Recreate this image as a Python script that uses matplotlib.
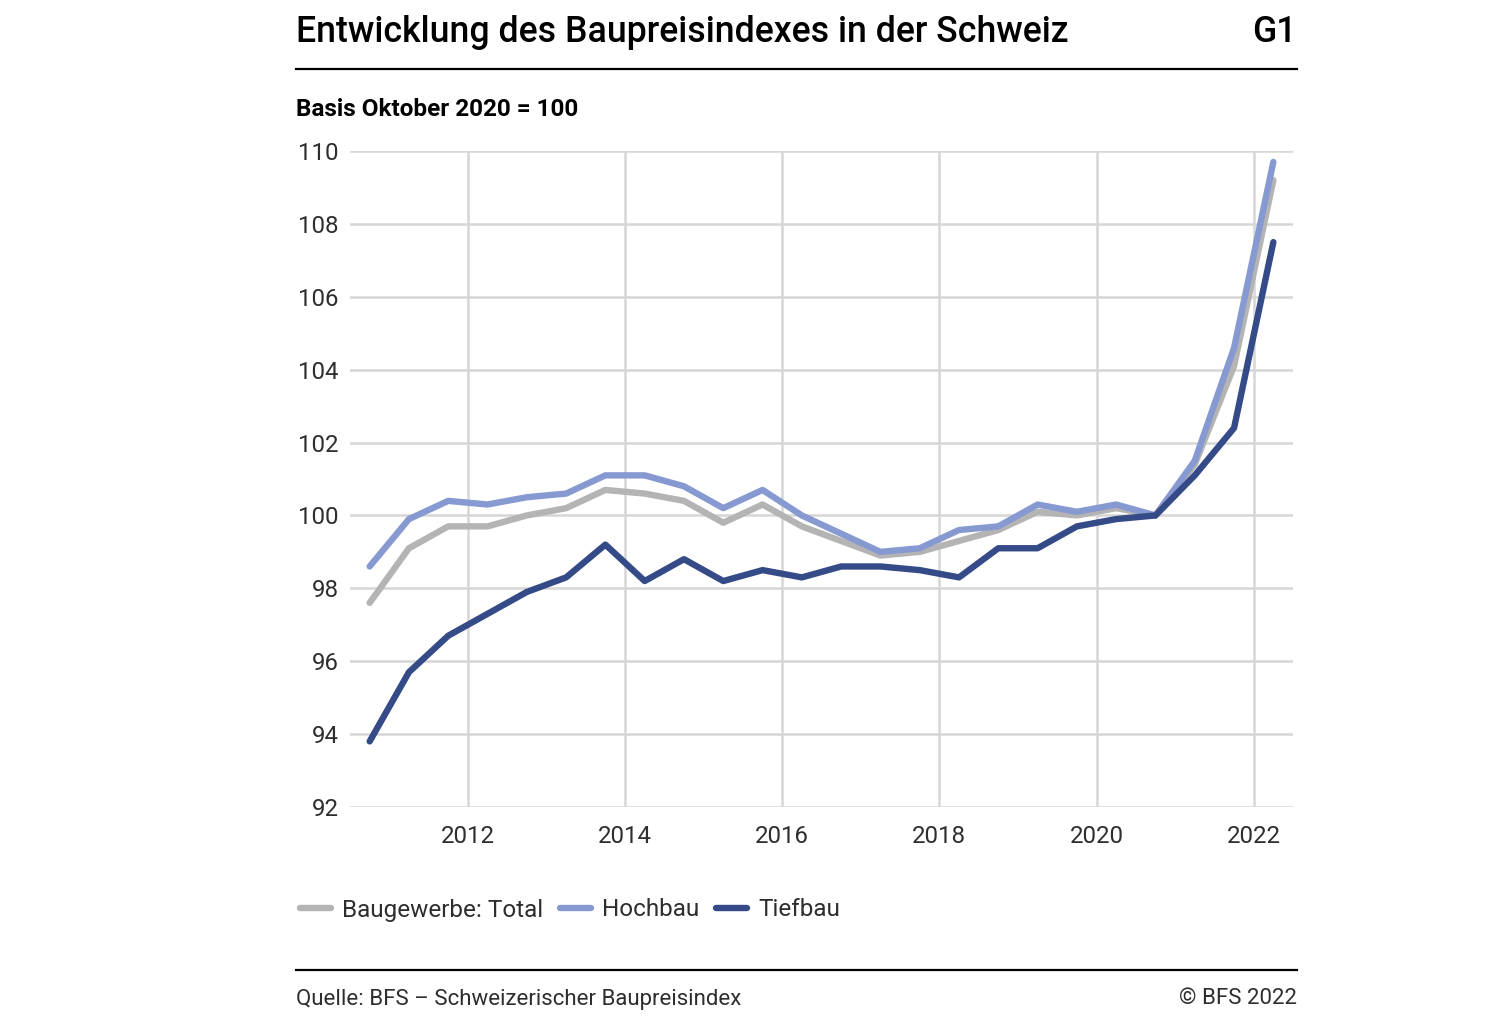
import matplotlib
matplotlib.use("Agg")
import matplotlib.pyplot as plt
from matplotlib.lines import Line2D

plt.rcParams["font.family"] = ["Roboto", "DejaVu Sans"]

# Halbjahreswerte April / Oktober
perioden = ["2010-10", "2011-04", "2011-10", "2012-04", "2012-10", "2013-04",
            "2013-10", "2014-04", "2014-10", "2015-04", "2015-10", "2016-04",
            "2016-10", "2017-04", "2017-10", "2018-04", "2018-10", "2019-04",
            "2019-10", "2020-04", "2020-10", "2021-04", "2021-10", "2022-04"]

total = [97.6, 99.1, 99.7, 99.7, 100.0, 100.2, 100.7, 100.6, 100.4, 99.8, 100.3, 99.7,
         99.3, 98.9, 99.0, 99.3, 99.6, 100.1, 100.0, 100.2, 100.0, 101.4, 104.1, 109.2]
hochbau = [98.6, 99.9, 100.4, 100.3, 100.5, 100.6, 101.1, 101.1, 100.8, 100.2, 100.7, 100.0,
           99.5, 99.0, 99.1, 99.6, 99.7, 100.3, 100.1, 100.3, 100.0, 101.5, 104.6, 109.7]
tiefbau = [93.8, 95.7, 96.7, 97.3, 97.9, 98.3, 99.2, 98.2, 98.8, 98.2, 98.5, 98.3,
           98.6, 98.6, 98.5, 98.3, 99.1, 99.1, 99.7, 99.9, 100.0, 101.1, 102.4, 107.5]

serien = ["Baugewerbe: Total", "Hochbau", "Tiefbau"]
farben = ["#b4b4b4", "#8799d1", "#344b87"]
x_ticks = [2012, 2014, 2016, 2018, 2020, 2022]
y_ticks = [92, 94, 96, 98, 100, 102, 104, 106, 108, 110]


def dezimaljahr(p):
    jahr, monat = p.split("-")
    return int(jahr) + (int(monat) - 1) / 12


W, H = 1494, 1024
textfarbe = "#2e2e2e"
fig = plt.figure(figsize=(W / 100, H / 100), dpi=100)
ax = fig.add_axes([350 / W, 1 - 807 / H, (1293 - 350) / W, (807 - 151) / H])

x = [dezimaljahr(p) for p in perioden]
for werte, name, farbe in zip([total, hochbau, tiefbau], serien, farben):
    ax.plot(x, werte, color=farbe, lw=4.6, label=name,
            solid_capstyle="round", solid_joinstyle="round", zorder=3)

ax.set_xlim(2010.5, 2022.5)
ax.set_ylim(92, 110)
ax.set_xticks(x_ticks)
ax.set_yticks(y_ticks)
ax.tick_params(length=0, labelsize=17.3, colors=textfarbe, pad=8)
ax.tick_params(axis="x", pad=13)
ax.grid(True, color="#d6d6d6", lw=1.8, zorder=0)
for s in ax.spines.values():
    s.set_visible(False)

# Titel und Rahmen
fig.text(296 / W, 1 - 33 / H, "Entwicklung des Baupreisindexes in der Schweiz",
         fontsize=25.7, fontweight="medium", va="center", ha="left")
fig.text(1297 / W, 1 - 33 / H, "G1", fontsize=25.7, fontweight="medium",
         va="center", ha="right")
fig.add_artist(Line2D([296 / W, 1297 / W], [1 - 69 / H] * 2, color="black", lw=1.6))
fig.text(296 / W, 1 - 109 / H, "Basis Oktober 2020 = 100", fontsize=17.5,
         fontweight="bold", va="center", ha="left")

leg = fig.legend(loc="center left", bbox_to_anchor=(290 / W, 1 - 910 / H), ncol=3,
                 frameon=False, fontsize=17.5, handlelength=1.28, handletextpad=0.45,
                 columnspacing=0.7, borderaxespad=0)
for t in leg.get_texts():
    t.set_color(textfarbe)

fig.add_artist(Line2D([296 / W, 1297 / W], [1 - 970 / H] * 2, color="black", lw=1.6))
fig.text(296 / W, 1 - 999 / H, "Quelle: BFS – Schweizerischer Baupreisindex",
         fontsize=16, va="center", ha="left", color=textfarbe)
fig.text(1297 / W, 1 - 999 / H, "© BFS 2022", fontsize=16,
         va="center", ha="right", color=textfarbe)

fig.savefig("out.png", dpi=100)
